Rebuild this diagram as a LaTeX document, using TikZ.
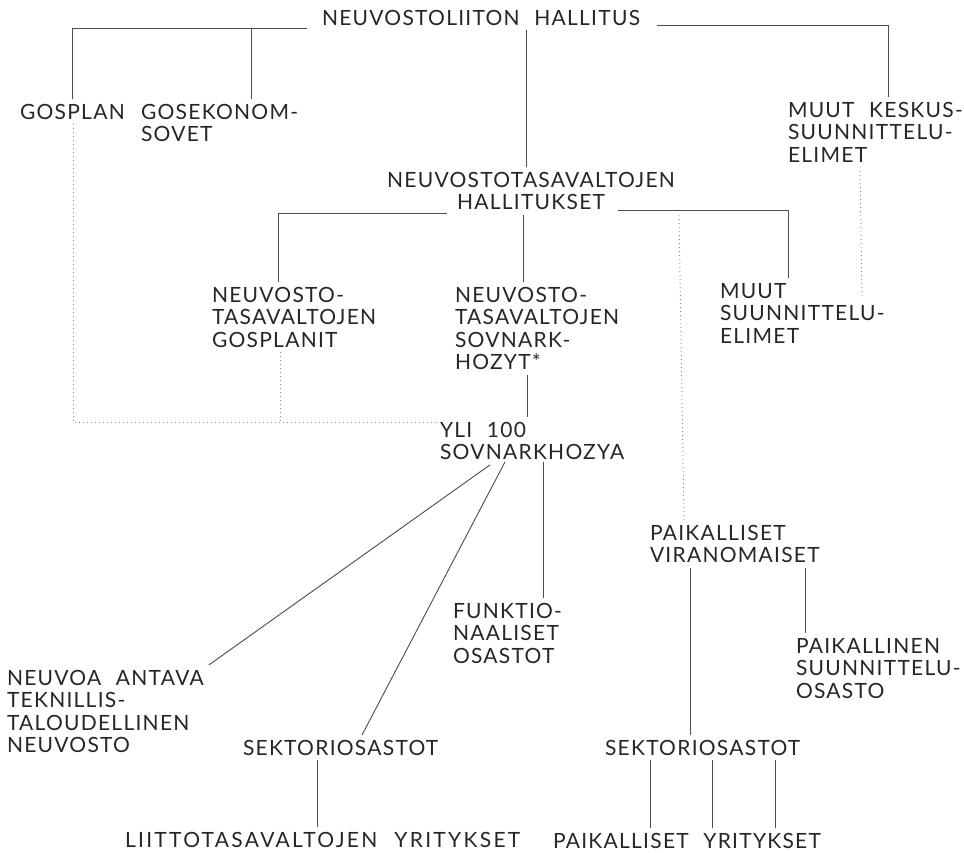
\documentclass[tikz,border=0pt]{standalone}
\usepackage{fontspec}
\setmainfont{Lato}[LetterSpace=6, WordSpace=2.2]
\usetikzlibrary{calc}

\begin{document}
\begin{tikzpicture}[x=1pt, y=-1pt]
    \tikzstyle{every node} = [anchor=north west, align=left, inner sep=0pt, outer sep=5pt, text=black!85, font=\fontsize{21}{22.5}\selectfont]
    \tikzstyle{link} = [black!70, line width=0.9pt]
    \tikzstyle{loose} = [black!45, line width=0.9pt, dash pattern=on 1pt off 3pt]
    \useasboundingbox (0,0) rectangle (964,852);

    % organs
    \node (gov) at (317,5) {NEUVOSTOLIITON HALLITUS};
    \node (gosplan) at (15,99) {GOSPLAN};
    \node (gosek) at (136,99) {GOSEKONOM-\\SOVET};
    \node (muutkesk) at (783,97) {MUUT KESKUS-\\SUUNNITTELU-\\ELIMET};
    \node (ntvhall) [anchor=north, align=center] at (531,167) {NEUVOSTOTASAVALTOJEN\\HALLITUKSET};
    \node (ntvgosplanit) at (207,282) {NEUVOSTO-\\TASAVALTOJEN\\GOSPLANIT};
    \node (ntvsovnark) at (450,282) {NEUVOSTO-\\TASAVALTOJEN\\SOVNARK-\\HOZYT*};
    \node (muutsuun) at (715,278) {MUUT\\SUUNNITTELU-\\ELIMET};
    \node (yli100) at (435,417) {YLI 100\\SOVNARKHOZYA};
    \node (neuvoa) at (2,665) {NEUVOA ANTAVA\\TEKNILLIS-\\TALOUDELLINEN\\NEUVOSTO};
    \node (sekt) at (238,735) {SEKTORIOSASTOT};
    \node (funktio) at (448,598) {FUNKTIO-\\NAALISET\\OSASTOT};
    \node (paikvir) at (645,520) {PAIKALLISET\\VIRANOMAISET};
    \node (paiksuun) at (791,633) {PAIKALLINEN\\SUUNNITTELU-\\OSASTO};
    \node (sektloc) at (600,735) {SEKTORIOSASTOT};
    \node (liitto) [font=\fontsize{21}{22.5}\selectfont\addfontfeatures{LetterSpace=11}] at (120,827) {LIITTOTASAVALTOJEN YRITYKSET};
    \node (paikyr) at (548,828) {PAIKALLISET YRITYKSET};

    % bars
    \coordinate (topL) at ($(gov.south west)+(-10,-2)$);
    \coordinate (topR) at ($(gov.south east)+(12,-5)$);
    \coordinate (midL) at ($(ntvhall.south)+(-84,-1)$);
    \coordinate (midR) at ($(ntvhall.south)+(87,-4)$);
    \draw[link] (topL) -| ($(gosplan.north west)+(57,0)$);
    \draw[link] ($(gosek.north west)+(115,0)$) |- (topL);
    \draw[link] (topR) -| ($(muutkesk.north west)+(105,0)$);
    \coordinate (c1) at ($(gov.south west)+(209,0)$);
    \draw[link] (c1) -- (c1 |- ntvhall.north);
    \draw[link] (midL) -| ($(ntvgosplanit.north west)+(71,0)$);
    \coordinate (c2) at ($(ntvsovnark.north west)+(73,0)$);
    \draw[link] (c2) -- (c2 |- ntvhall.south);
    \draw[link] (midR) -| ($(muutsuun.north west)+(73,0)$);
    \coordinate (c3) at ($(ntvsovnark.south west)+(77,0)$);
    \draw[link] (c3) -- (c3 |- yli100.north);

    % sovnarkhozy
    \draw[link] ($(yli100.south west)+(55,0)$) -- (neuvoa.north east);
    \draw[link] ($(yli100.south west)+(70,-3)$) -- ($(sekt.north west)+(124,0)$);
    \coordinate (c4) at ($(yli100.south west)+(108,-3)$);
    \draw[link] (c4) -- (c4 |- funktio.north);
    \coordinate (c5) at ($(sekt.south west)+(79,0)$);
    \draw[link] (c5) -- (c5 |- liitto.north);

    % local
    \coordinate (c6) at ($(paikvir.south west)+(45,0)$);
    \draw[link] (c6) -- (c6 |- sektloc.north);
    \coordinate (c7) at ($(paiksuun.north west)+(14,0)$);
    \draw[link] (c7) -- (c7 |- paikvir.south);
    \foreach \dx in {50,112,175}
        \draw[link] ($(sektloc.south west)+(\dx,0)$) coordinate (c8) -- (c8 |- paikyr.north);

    % dotted links
    \coordinate (d0) at ($(yli100.north west)+(2,5)$);
    \draw[loose] ($(gosplan.south west)+(58,0)$) |- (d0);
    \coordinate (d1) at ($(ntvgosplanit.south west)+(73,0)$);
    \draw[loose] (d1) -- (d1 |- d0);
    \draw[loose] ($(muutkesk.south west)+(77,0)$) -- ($(muutsuun.north west)+(147,20)$);
    \draw[loose] ($(paikvir.north west)+(39,0)$) -- ($(ntvhall.south)+(148,0)$);
\end{tikzpicture}
\end{document}
